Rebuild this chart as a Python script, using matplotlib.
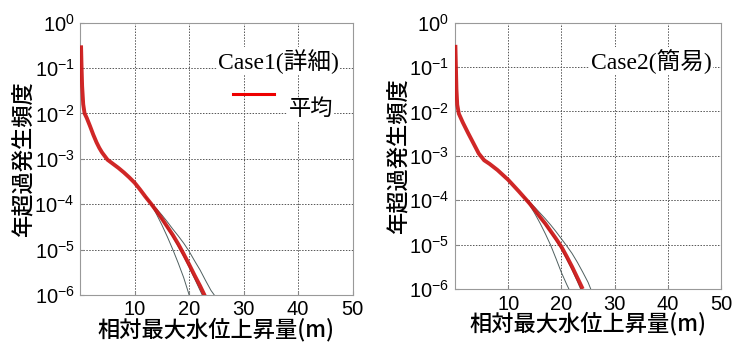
import numpy as np
import matplotlib
matplotlib.use("Agg")
import matplotlib.pyplot as plt

plt.rcParams['font.family'] = ['Liberation Sans', 'Noto Sans CJK JP']
plt.rcParams['mathtext.default'] = 'regular'

# Case1 (detailed model): mean curve and spread lines, log10 of annual exceedance frequency
c1_mean_x = [0.15, 0.25, 0.35, 0.55, 0.8, 1.2, 1.8, 2.4, 3.0, 3.5, 4.0, 4.5, 5.0, 6.0, 7.0, 8.0, 9.0,
             10, 11, 12, 13, 14, 15, 16, 17, 18, 19, 20, 21, 22, 23]
c1_mean_y = [-0.5, -1.0, -1.4, -1.8, -2.0, -2.1, -2.28, -2.47, -2.64, -2.76, -2.86, -2.94, -3.02, -3.11,
             -3.2, -3.3, -3.41, -3.53, -3.68, -3.84, -3.99, -4.15, -4.32, -4.5, -4.68, -4.88, -5.1,
             -5.33, -5.57, -5.8, -6.05]
c1_low_x = [12, 13, 14, 15, 16, 17, 18, 19, 20]
c1_low_y = [-3.84, -4.0, -4.22, -4.46, -4.72, -5.0, -5.3, -5.62, -6.0]
c1_mid_x = [12, 13, 14, 15, 16, 17, 18, 19, 20, 21, 22, 22.4]
c1_mid_y = [-3.84, -3.99, -4.16, -4.34, -4.53, -4.72, -4.93, -5.15, -5.39, -5.64, -5.9, -6.0]
c1_up_x = [12, 13, 14, 15, 16, 17, 18, 19, 20, 21, 22, 23, 24, 24.6]
c1_up_y = [-3.84, -3.98, -4.1, -4.24, -4.39, -4.55, -4.7, -4.86, -5.04, -5.25, -5.45, -5.68, -5.9, -6.0]

# Case2 (simplified model)
c2_mean_x = [0.1, 0.2, 0.3, 0.45, 0.75, 1.5, 2.5, 3.5, 4.5, 5.5, 6.5, 8, 10, 12, 14, 15, 16, 17, 18,
             19, 20, 21, 22, 23, 24]
c2_mean_y = [-0.5, -1.0, -1.5, -1.85, -2.05, -2.25, -2.49, -2.72, -2.95, -3.1, -3.18, -3.32, -3.54,
             -3.8, -4.07, -4.22, -4.38, -4.53, -4.7, -4.87, -5.05, -5.27, -5.5, -5.75, -6.0]
c2_low_x = [13, 14, 15, 16, 17, 18, 19, 20, 21, 21.4]
c2_low_y = [-3.93, -4.1, -4.3, -4.52, -4.76, -5.02, -5.32, -5.63, -5.9, -6.0]
c2_mid_x = [13, 14, 15, 16, 17, 18, 19, 20, 21, 22, 23, 23.6]
c2_mid_y = [-3.93, -4.08, -4.24, -4.4, -4.56, -4.73, -4.91, -5.1, -5.33, -5.57, -5.83, -6.0]
c2_up_x = [13, 14, 15, 16, 17, 18, 19, 20, 21, 22, 23, 24, 25, 25.5]
c2_up_y = [-3.93, -4.04, -4.16, -4.29, -4.42, -4.56, -4.71, -4.87, -5.03, -5.2, -5.4, -5.62, -5.85, -6.0]

x_ticks = [10, 20, 30, 40, 50]
y_ticks = [1e-6, 1e-5, 1e-4, 1e-3, 1e-2, 1e-1, 1e0]

cases = [
    ("Case1(詳細)", c1_mean_x, c1_mean_y, [(c1_low_x, c1_low_y), (c1_mid_x, c1_mid_y), (c1_up_x, c1_up_y)]),
    ("Case2(簡易)", c2_mean_x, c2_mean_y, [(c2_low_x, c2_low_y), (c2_mid_x, c2_mid_y), (c2_up_x, c2_up_y)]),
]
rects = [[0.109, 0.155, 0.370, 0.780], [0.618, 0.172, 0.362, 0.763]]
title_pos = [(0.95, 0.858), (0.963, 0.855)]
serif = ['Liberation Serif', 'Noto Sans CJK JP']

fig = plt.figure(figsize=(7.36, 3.49), dpi=100)

for i, (title, mx, my, spread) in enumerate(cases):
    ax = fig.add_axes(rects[i])
    for sx, sy in spread:
        ax.plot(sx, 10 ** np.array(sy), color='#4f5f5f', lw=0.7, zorder=3)
    ax.plot(mx, 10 ** np.array(my), color='#cc1414', lw=2.8, alpha=0.92, zorder=4,
            solid_capstyle='butt')
    ax.set_yscale('log')
    ax.set_xlim(0, 50)
    ax.set_ylim(1e-6, 1)
    ax.set_xticks(x_ticks)
    ax.set_yticks(y_ticks)
    ax.minorticks_off()
    ax.tick_params(direction='in', length=3, labelsize=14.5, color='#888888', pad=4)
    ax.grid(True, linestyle=(0, (1.5, 1.5)), color='#555555', lw=0.7)
    for s in ax.spines.values():
        s.set_color('#999999')
        s.set_linewidth(0.8)
    ax.set_xlabel('相対最大水位上昇量(m)', fontsize=16, fontweight='medium',
                  family=['Noto Sans CJK JP'], labelpad=-1)
    ax.set_ylabel('年超過発生頻度', fontsize=16, fontweight='medium',
                  family=['Noto Sans CJK JP'], labelpad=0)
    tx, ty = title_pos[i]
    ax.text(tx, ty, title, transform=ax.transAxes, ha='right', va='center',
            fontsize=17, family=serif,
            bbox=dict(facecolor='white', edgecolor='none', pad=1))
    if i == 0:
        # legend key for the mean curve
        ax.plot([0.56, 0.71], [0.739, 0.739], transform=ax.transAxes, color='#ee0000', lw=2.2)
        ax.text(0.765, 0.68, '平均', transform=ax.transAxes, ha='left', va='center',
                fontsize=16, family=serif,
                bbox=dict(facecolor='white', edgecolor='none', pad=1))

fig.savefig('out.png', dpi=100)
